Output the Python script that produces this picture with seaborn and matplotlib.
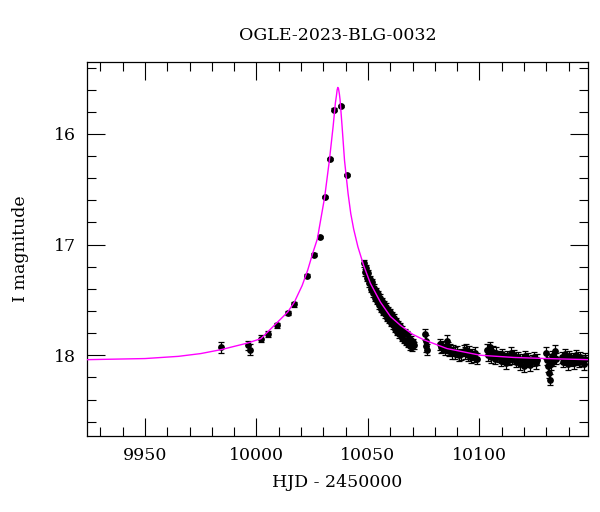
import numpy as np
import pandas as pd
import seaborn as sns
import matplotlib.pyplot as plt
from matplotlib.ticker import MultipleLocator

# OGLE-2023-BLG-0032 - I band light curve (HJD - 2450000, I mag)
hjd_rise = [9984.3, 9996.3, 9997.2, 10002.1, 10005.2, 10009.0, 10014.0, 10017.0,
            10022.7, 10025.9, 10028.4, 10030.8, 10032.9, 10034.8, 10038.0, 10040.8]
mag_rise = [17.93, 17.91, 17.95, 17.85, 17.81, 17.73, 17.62, 17.54,
            17.28, 17.09, 16.93, 16.57, 16.23, 15.78, 15.75, 16.37]
err_rise = [0.05, 0.04, 0.05, 0.03, 0.025, 0.025, 0.02, 0.02,
            0.015, 0.015, 0.012, 0.01, 0.01, 0.01, 0.01, 0.01]

hjd_fall = [10048.2, 10048.6, 10049.1, 10049.5, 10050.0, 10050.4, 10050.9, 10051.3, 10051.8, 10052.2,
            10052.7, 10053.1, 10053.6, 10054.0, 10054.5, 10055.0, 10055.4, 10055.9, 10056.3, 10056.8,
            10057.2, 10057.7, 10058.2, 10058.6, 10059.1, 10059.5, 10060.0, 10060.5, 10060.9, 10061.4,
            10061.8, 10062.3, 10062.8, 10063.2, 10063.7, 10064.1, 10064.6, 10065.1, 10065.5, 10066.0,
            10066.4, 10066.9, 10067.4, 10067.8, 10068.3, 10068.7, 10069.2, 10069.7, 10070.1, 10070.6]
mag_fall = [17.17, 17.25, 17.21, 17.30, 17.26, 17.35, 17.31, 17.40, 17.34, 17.44,
            17.39, 17.48, 17.42, 17.51, 17.45, 17.55, 17.48, 17.58, 17.51, 17.61,
            17.54, 17.63, 17.56, 17.66, 17.59, 17.68, 17.61, 17.71, 17.64, 17.73,
            17.66, 17.76, 17.69, 17.79, 17.72, 17.81, 17.74, 17.84, 17.77, 17.86,
            17.79, 17.88, 17.81, 17.90, 17.84, 17.92, 17.86, 17.93, 17.88, 17.91]

hjd_tail = [10075.6, 10075.9, 10076.2, 10076.4,
            10082.3, 10082.8, 10083.4, 10084.5, 10085.3, 10085.7, 10086.2, 10087.0, 10087.6, 10088.3,
            10089.1, 10090.0, 10090.8, 10091.6, 10093.0, 10093.6, 10094.2, 10094.8, 10095.5, 10096.1,
            10096.8, 10097.5, 10098.2, 10098.8,
            10103.5, 10104.0, 10104.6, 10105.2, 10106.0, 10106.8, 10107.5, 10109.0, 10109.6, 10110.3,
            10111.0, 10111.8, 10112.5, 10113.2, 10114.0, 10114.7, 10115.5, 10116.2, 10117.5, 10118.2,
            10119.0, 10119.8, 10120.5, 10121.2, 10122.0, 10122.8, 10123.6, 10124.4, 10125.2, 10125.9,
            10129.8, 10130.3, 10130.8, 10131.2, 10131.5, 10132.0, 10132.5, 10133.2, 10133.8, 10134.5,
            10137.0, 10137.6, 10138.3, 10139.0, 10139.7, 10140.4, 10141.1, 10141.8, 10142.5, 10143.2,
            10143.9, 10144.6, 10145.3, 10146.0, 10146.8, 10147.5]
mag_tail = [17.81, 17.87, 17.92, 17.95,
            17.90, 17.93, 17.92, 17.95, 17.87, 17.93, 17.96, 17.95, 17.98, 17.96,
            17.98, 17.97, 18.00, 17.99, 17.96, 17.98, 17.95, 18.00, 17.97, 18.02,
            17.99, 18.01, 17.98, 18.03,
            17.95, 18.00, 17.93, 18.02, 17.97, 18.03, 17.98, 18.01, 18.05, 17.99,
            18.03, 18.07, 18.01, 18.04, 17.98, 18.03, 18.00, 18.06, 18.02, 18.08,
            18.04, 18.10, 18.01, 18.06, 18.03, 18.09, 18.05, 18.02, 18.07, 18.04,
            17.98, 18.04, 18.10, 18.16, 18.22, 18.08, 18.01, 18.05, 17.96, 18.03,
            18.02, 18.06, 17.99, 18.04, 18.08, 18.01, 18.05, 18.03, 18.07, 18.00,
            18.04, 18.06, 18.02, 18.05, 18.08, 18.03]

# model curve
hjd_model = [9924.0, 9950.0, 9965.0, 9975.0, 9984.0, 9996.0, 10002.0, 10005.0, 10009.0, 10014.0,
             10017.0, 10020.5, 10023.0, 10025.2, 10027.3, 10030.6, 10032.7, 10034.4, 10035.4, 10035.9,
             10036.2, 10036.5, 10036.8, 10037.2, 10037.5, 10038.4, 10039.5, 10041.1, 10042.3, 10043.6,
             10045.5, 10048.1, 10051.1, 10055.6, 10060.1, 10064.6, 10070.0, 10075.0, 10085.5, 10100.4,
             10115.4, 10130.3, 10148.7]
mag_model = [18.04, 18.03, 18.01, 17.985, 17.95, 17.89, 17.85, 17.79, 17.71, 17.61,
             17.52, 17.37, 17.23, 17.08, 16.95, 16.57, 16.24, 15.93, 15.72, 15.65,
             15.60, 15.58, 15.59, 15.64, 15.69, 15.93, 16.24, 16.54, 16.72, 16.86,
             17.02, 17.19, 17.35, 17.52, 17.65, 17.73, 17.81, 17.86, 17.94, 18.00,
             18.02, 18.03, 18.04]

err_fall = [0.03] * len(hjd_fall)
err_tail = [0.05] * len(hjd_tail)

data = pd.DataFrame({
    "hjd": hjd_rise + hjd_fall + hjd_tail,
    "mag": mag_rise + mag_fall + mag_tail,
    "err": err_rise + err_fall + err_tail,
})
model = pd.DataFrame({"hjd": hjd_model, "mag": mag_model})

sns.set_theme(style="ticks")
plt.rcParams['font.family'] = ['DejaVu Serif']
plt.rcParams['text.color'] = 'black'
plt.rcParams['axes.labelcolor'] = 'black'

fig = plt.figure(figsize=(6, 5.12), dpi=100)
ax = fig.add_axes([0.145, 0.1484, 0.835, 0.7305])

ax.errorbar(data["hjd"], data["mag"], yerr=data["err"], fmt="none",
            ecolor="black", elinewidth=0.9, capsize=2.5, capthick=0.9, zorder=2)
sns.scatterplot(data=data, x="hjd", y="mag", ax=ax, color="black", s=24,
                edgecolor="black", linewidth=0, zorder=3)
sns.lineplot(data=model, x="hjd", y="mag", ax=ax, color="magenta", lw=1,
             sort=False, zorder=4)

ax.set_xlim(9924, 10148.7)
ax.set_ylim(18.73, 15.35)
ax.xaxis.set_major_locator(MultipleLocator(50))
ax.xaxis.set_minor_locator(MultipleLocator(10))
ax.yaxis.set_major_locator(MultipleLocator(1))
ax.yaxis.set_minor_locator(MultipleLocator(0.2))
ax.tick_params(which="both", direction="in", top=True, right=True,
               width=0.8, colors="black", labelcolor="black", labelsize=12.5, pad=8)
ax.tick_params(which="major", length=13)
ax.tick_params(which="minor", length=6.5)
for sp in ax.spines.values():
    sp.set_linewidth(0.9)
    sp.set_color("black")

ax.set_xlabel("HJD - 2450000", fontsize=12.5, labelpad=7, color="black")
ax.set_ylabel("I magnitude", fontsize=12.5, labelpad=18, color="black")
ax.set_title("OGLE-2023-BLG-0032", fontsize=12.5, pad=16, color="black")

fig.savefig("out.png", dpi=100)
